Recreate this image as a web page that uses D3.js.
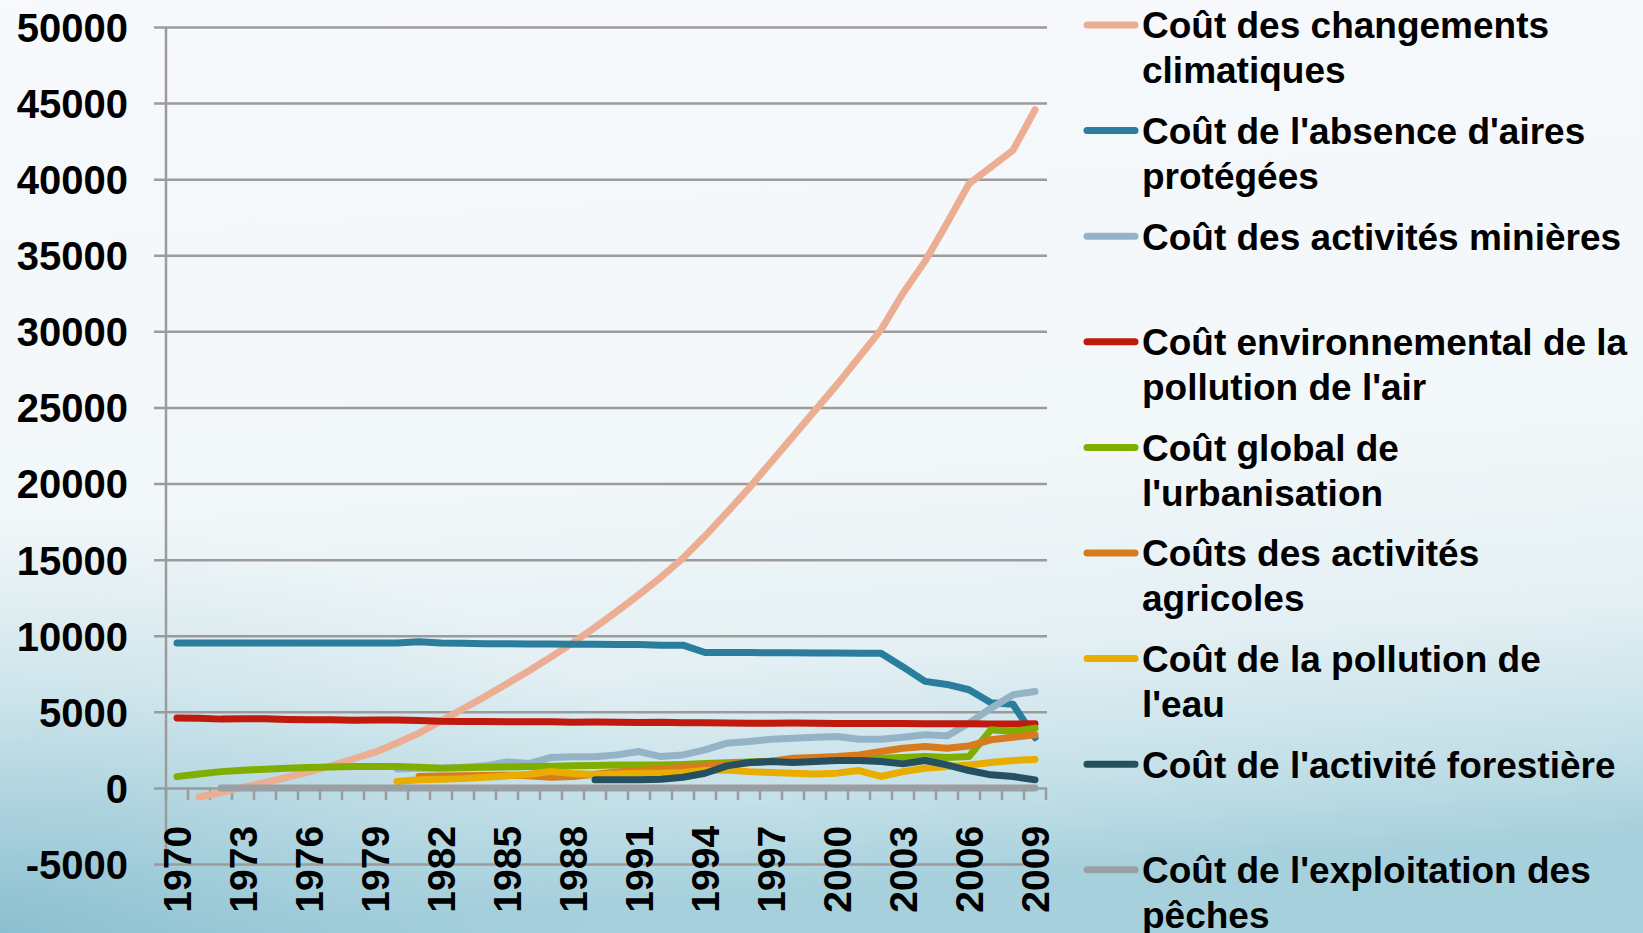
<!DOCTYPE html>
<html>
<head>
<meta charset="utf-8">
<script src="https://cdnjs.cloudflare.com/ajax/libs/d3/7.8.5/d3.min.js"></script>
<style>
  body { margin: 0; overflow: hidden; }
  text { font-family: "Liberation Sans", Arial, sans-serif; font-weight: bold; fill: #000; }
</style>
</head>
<body>
<div class="view"></div>
<script>
var years = [1970, 1971, 1972, 1973, 1974, 1975, 1976, 1977, 1978, 1979,
  1980, 1981, 1982, 1983, 1984, 1985, 1986, 1987, 1988, 1989,
  1990, 1991, 1992, 1993, 1994, 1995, 1996, 1997, 1998, 1999,
  2000, 2001, 2002, 2003, 2004, 2005, 2006, 2007, 2008, 2009];

var yearLabels = [1970, 1973, 1976, 1979, 1982, 1985, 1988, 1991, 1994, 1997, 2000, 2003, 2006, 2009];
var yTicks = [-5000, 0, 5000, 10000, 15000, 20000, 25000, 30000, 35000, 40000, 45000, 50000];

var climat = [null, -600, -300, 50, 350, 700, 1050, 1450, 1900, 2350,
  2950, 3600, 4400, 5200, 6000, 6850, 7700, 8600, 9550, 10550,
  11600, 12700, 13850, 15100, 16550, 18100, 19700, 21400, 23100, 24800,
  26500, 28300, 30100, 32500, 34600, 37100, 39700, 40800, 41900, 44560];

var airesProtegees = [9520, 9520, 9520, 9520, 9520, 9520, 9520, 9520, 9520, 9520,
  9520, 9600, 9520, 9500, 9480, 9470, 9460, 9450, 9440, 9440,
  9430, 9420, 9380, 9380, 8900, 8900, 8890, 8880, 8880, 8860,
  8860, 8850, 8850, 7950, 7000, 6800, 6450, 5600, 5500, 3300];

var minieres = [null, null, null, null, null, null, null, null, null, null,
  1250, 1300, 1300, 1350, 1450, 1700, 1600, 2000, 2050, 2050,
  2170, 2390, 2060, 2170, 2500, 2940, 3050, 3200, 3270, 3330,
  3380, 3200, 3200, 3330, 3490, 3420, 4250, 5240, 6120, 6340];

var pollutionAir = [4600, 4570, 4520, 4550, 4550, 4500, 4480, 4480, 4450, 4460,
  4470, 4430, 4380, 4370, 4360, 4350, 4350, 4340, 4320, 4330,
  4310, 4300, 4320, 4280, 4280, 4260, 4250, 4250, 4260, 4250,
  4230, 4230, 4240, 4230, 4220, 4220, 4210, 4200, 4200, 4220];

var urbanisation = [740, 920, 1070, 1160, 1230, 1290, 1340, 1370, 1400, 1410,
  1400, 1350, 1300, 1320, 1350, 1380, 1400, 1430, 1450, 1480,
  1500, 1500, 1510, 1540, 1600, 1650, 1700, 1760, 1800, 1850,
  1900, 1950, 1950, 2000, 2060, 2000, 2060, 3820, 3700, 3930];

var agricoles = [null, null, null, null, null, null, null, null, null, null,
  null, 750, 780, 800, 820, 830, 800, 700, 750, 900,
  1050, 1150, 1250, 1350, 1450, 1550, 1650, 1750, 1950, 2000,
  2060, 2170, 2390, 2610, 2720, 2610, 2760, 3160, 3330, 3490];

var pollutionEau = [null, null, null, null, null, null, null, null, null, null,
  420, 530, 570, 610, 700, 790, 900, 1080, 950, 880,
  920, 970, 970, 1010, 1140, 1180, 1070, 1010, 970, 920,
  970, 1140, 750, 1070, 1290, 1400, 1510, 1670, 1800, 1870];

var forestiere = [null, null, null, null, null, null, null, null, null, null,
  null, null, null, null, null, null, null, null, null, 530,
  530, 530, 570, 700, 965, 1450, 1670, 1730, 1670, 1730,
  1800, 1800, 1730, 1580, 1800, 1510, 1140, 860, 750, 530];

var peches = [null, null, 0, 0, 0, 0, 0, 0, 0, 0,
  0, 0, 0, 0, 0, 0, 0, 0, 0, 0,
  0, 0, 0, 0, 0, 0, 0, 0, 0, 0,
  0, 0, 0, 0, 0, 0, 0, 0, 0, 0];

var seriesNames = [
  ["Coût des changements", "climatiques"],
  ["Coût de l'absence d'aires", "protégées"],
  ["Coût des activités minières"],
  ["Coût environnemental de la", "pollution de l'air"],
  ["Coût global de", "l'urbanisation"],
  ["Coûts des activités", "agricoles"],
  ["Coût de la pollution de", "l'eau"],
  ["Coût de l'activité forestière"],
  ["Coût de l'exploitation des", "pêches"]
];
var seriesValues = [climat, airesProtegees, minieres, pollutionAir, urbanisation, agricoles, pollutionEau, forestiere, peches];
var seriesColors = ["#ecae92", "#2a7d9c", "#95b3c6", "#bf1a0c", "#80ae00", "#d77b1c", "#e9ad00", "#245060", "#9a9fa4"];

var W = 1643, H = 933;
var plotLeft = 166, plotRight = 1046, plotTop = 27, plotBottom = 864;

var svg = d3.select('.view')
  .append('svg')
  .attr('width', W)
  .attr('height', H);

var defs = svg.append("defs");
var bg = defs.append("linearGradient")
  .attr("id", "bg")
  .attr("x1", 0).attr("y1", 0)
  .attr("x2", 0.12).attr("y2", 1);
bg.append("stop").attr("offset", "0").attr("stop-color", "#f7f9fc");
bg.append("stop").attr("offset", "0.55").attr("stop-color", "#f2f7f9");
bg.append("stop").attr("offset", "0.75").attr("stop-color", "#e4f0f4");
bg.append("stop").attr("offset", "0.9").attr("stop-color", "#c4e0e8");
bg.append("stop").attr("offset", "1").attr("stop-color", "#a6d0dc");

var corner = defs.append("radialGradient")
  .attr("id", "corner")
  .attr("cx", 0).attr("cy", 1).attr("r", 0.45);
corner.append("stop").attr("offset", "0").attr("stop-color", "#7db7ca").attr("stop-opacity", 0.7);
corner.append("stop").attr("offset", "1").attr("stop-color", "#a9d2de").attr("stop-opacity", 0);

svg.append("rect").attr("width", W).attr("height", H).attr("fill", "url(#bg)");
svg.append("rect").attr("width", W).attr("height", H).attr("fill", "url(#corner)");

var x = d3.scaleBand()
  .domain(years)
  .range([plotLeft, plotRight]);

var y = d3.scaleLinear()
  .domain([-5000, 50000])
  .range([plotBottom, plotTop]);

// gridlines + y labels
var yAxis = svg.append("g")
  .attr("transform", "translate(" + (plotLeft - 12) + ",0)")
  .call(d3.axisLeft(y).tickValues(yTicks).tickSize(-(plotRight - plotLeft + 13)).tickPadding(26).tickFormat(function(d) { return String(d); }));
yAxis.select(".domain").remove();
yAxis.selectAll(".tick line")
  .attr("stroke", "#9b9b9b")
  .attr("stroke-width", 2.5);
yAxis.selectAll(".tick text")
  .attr("font-size", 40)
  .attr("dy", "0.36em");

// vertical axis line
svg.append("line")
  .attr("x1", plotLeft).attr("x2", plotLeft)
  .attr("y1", y(50000)).attr("y2", y(-5000))
  .attr("stroke", "#9b9b9b")
  .attr("stroke-width", 2.5);

// category ticks at the zero line
svg.append("g")
  .selectAll("line")
  .data(years.concat([2010]))
  .enter()
  .append("line")
  .attr("x1", function(d) { return d == 2010 ? plotRight : x(d); })
  .attr("x2", function(d) { return d == 2010 ? plotRight : x(d); })
  .attr("y1", y(0))
  .attr("y2", y(0) + 12)
  .attr("stroke", "#9b9b9b")
  .attr("stroke-width", 2.5);

// year labels
var xAxis = svg.append("g")
  .attr("transform", "translate(0," + y(0) + ")")
  .call(d3.axisBottom(x).tickValues(yearLabels).tickSize(0));
xAxis.select(".domain").remove();
xAxis.selectAll(".tick text")
  .attr("font-size", 39)
  .attr("text-anchor", "end")
  .attr("x", 0)
  .attr("y", 0)
  .attr("dy", "0.36em")
  .attr("transform", "translate(0,38) rotate(-90)");

var line = d3.line()
  .defined(function(d) { return d != null; })
  .x(function(d, i) { return x(years[i]) + x.bandwidth() / 2; })
  .y(function(d) { return y(d); });

seriesValues.forEach(function(vals, k) {
  svg.append("path")
    .datum(vals)
    .attr("fill", "none")
    .attr("stroke", seriesColors[k])
    .attr("stroke-width", 7)
    .attr("stroke-linecap", "round")
    .attr("stroke-linejoin", "round")
    .attr("d", line);
});

// legend
var legend = svg.append("g");
seriesNames.forEach(function(lines, k) {
  var cy = 25 + k * 105.6;
  legend.append("line")
    .attr("x1", 1087).attr("x2", 1135)
    .attr("y1", cy).attr("y2", cy)
    .attr("stroke", seriesColors[k])
    .attr("stroke-width", 7)
    .attr("stroke-linecap", "round");
  lines.forEach(function(t, j) {
    legend.append("text")
      .attr("x", 1142)
      .attr("y", cy + j * 45)
      .attr("dy", "0.36em")
      .attr("font-size", 37)
      .text(t);
  });
});
</script>
</body>
</html>
